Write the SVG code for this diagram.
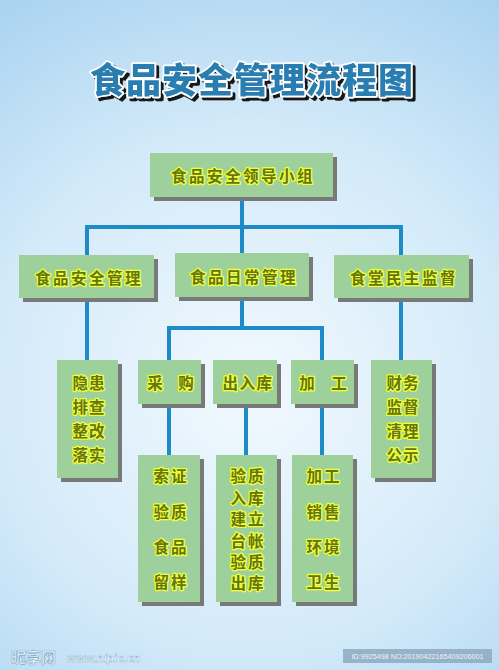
<svg xmlns="http://www.w3.org/2000/svg" width="499" height="670" viewBox="0 0 499 670">
  <defs>
    <radialGradient id="bg" cx="250" cy="390" r="470" gradientUnits="userSpaceOnUse">
      <stop offset="0" stop-color="#f2f9fe"/>
      <stop offset="0.55" stop-color="#d3eaf9"/>
      <stop offset="1" stop-color="#a7d2f0"/>
    </radialGradient>
    <filter id="tshadow" x="-10%" y="-30%" width="120%" height="160%">
      <feDropShadow dx="3" dy="3" stdDeviation="0.6" flood-color="#111111" flood-opacity="0.95"/>
    </filter>
  </defs>
  <style>
    .box { fill: #9dd09a; }
    .sh { fill: #777a77; }
    .lbl { font-family: "Noto Sans CJK SC", "Noto Sans", sans-serif; font-size: 15.5px; font-weight: 700; fill: #66750f; stroke: #eeff3a; stroke-width: 2.6px; stroke-linejoin: round; paint-order: stroke; text-anchor: middle; dominant-baseline: central; }
    .conn { stroke: #1c8bc8; stroke-width: 4; fill: none; stroke-linecap: square; }
    .title { font-family: "Noto Sans CJK SC", sans-serif; font-size: 35px; font-weight: 900; text-anchor: middle; letter-spacing: 1px; }
    .wm { font-family: "Liberation Sans", "Noto Sans CJK SC", sans-serif; }
  </style>
  <rect x="0" y="0" width="499" height="670" fill="url(#bg)"/>

  <g id="title">
    <text class="title" x="252" y="93" fill="#2b7db0" stroke="#ffffff" stroke-width="3.5" stroke-linejoin="round" paint-order="stroke" filter="url(#tshadow)">食品安全管理流程图</text>
  </g>

  <g id="connectors">
    <path class="conn" d="M242 199 V227 M87 227 H401 M87 227 V255 M242 227 V253 M401 227 V255"/>
    <path class="conn" d="M242 299 V328 M169 328 H322 M169 328 V360 M322 328 V360"/>
    <path class="conn" d="M87 300 V360 M401 300 V360"/>
    <path class="conn" d="M169 406 V455 M246 406 V455 M322 406 V455"/>
  </g>

  <g id="n-leader">
    <rect class="sh" x="154" y="157" width="183" height="44"/>
    <rect class="box" x="150" y="153" width="183" height="44"/>
    <text class="lbl" x="243" y="175" letter-spacing="2.5">食品安全领导小组</text>
  </g>

  <g id="n-safety">
    <rect class="sh" x="23" y="259" width="135" height="43"/>
    <rect class="box" x="19" y="255" width="135" height="43"/>
    <text class="lbl" x="89" y="277" letter-spacing="2.5">食品安全管理</text>
  </g>
  <g id="n-daily">
    <rect class="sh" x="179" y="257" width="134" height="44"/>
    <rect class="box" x="175" y="253" width="134" height="44"/>
    <text class="lbl" x="244" y="276" letter-spacing="2.5">食品日常管理</text>
  </g>
  <g id="n-canteen">
    <rect class="sh" x="338" y="259" width="135" height="43"/>
    <rect class="box" x="334" y="255" width="135" height="43"/>
    <text class="lbl" x="404" y="277" letter-spacing="2.5">食堂民主监督</text>
  </g>

  <g id="n-hazard">
    <rect class="sh" x="61" y="364" width="61" height="118"/>
    <rect class="box" x="57" y="360" width="61" height="118"/>
    <text class="lbl" x="89" y="382" letter-spacing="1">隐患</text>
    <text class="lbl" x="89" y="406" letter-spacing="1">排查</text>
    <text class="lbl" x="89" y="430" letter-spacing="1">整改</text>
    <text class="lbl" x="89" y="454" letter-spacing="1">落实</text>
  </g>
  <g id="n-purchase">
    <rect class="sh" x="142" y="364" width="63" height="44"/>
    <rect class="box" x="138" y="360" width="63" height="44"/>
    <text class="lbl" x="155" y="382">采</text>
    <text class="lbl" x="186" y="382">购</text>
  </g>
  <g id="n-storage">
    <rect class="sh" x="217" y="364" width="64" height="44"/>
    <rect class="box" x="213" y="360" width="64" height="44"/>
    <text class="lbl" x="248" y="382" letter-spacing="1.5">出入库</text>
  </g>
  <g id="n-process">
    <rect class="sh" x="295" y="364" width="63" height="44"/>
    <rect class="box" x="291" y="360" width="63" height="44"/>
    <text class="lbl" x="307" y="382">加</text>
    <text class="lbl" x="339" y="382">工</text>
  </g>
  <g id="n-finance">
    <rect class="sh" x="375" y="364" width="61" height="118"/>
    <rect class="box" x="371" y="360" width="61" height="118"/>
    <text class="lbl" x="403" y="382" letter-spacing="1">财务</text>
    <text class="lbl" x="403" y="406" letter-spacing="1">监督</text>
    <text class="lbl" x="403" y="430" letter-spacing="1">清理</text>
    <text class="lbl" x="403" y="454" letter-spacing="1">公示</text>
  </g>

  <g id="n-purchase-detail">
    <rect class="sh" x="142" y="459" width="62" height="147"/>
    <rect class="box" x="138" y="455" width="62" height="147"/>
    <text class="lbl" x="171" y="475" letter-spacing="2">索证</text>
    <text class="lbl" x="171" y="511" letter-spacing="2">验质</text>
    <text class="lbl" x="171" y="546" letter-spacing="2">食品</text>
    <text class="lbl" x="171" y="581" letter-spacing="2">留样</text>
  </g>
  <g id="n-storage-detail">
    <rect class="sh" x="220" y="459" width="61" height="147"/>
    <rect class="box" x="216" y="455" width="61" height="147"/>
    <text class="lbl" x="248" y="475" letter-spacing="2">验质</text>
    <text class="lbl" x="248" y="497" letter-spacing="2">入库</text>
    <text class="lbl" x="248" y="518" letter-spacing="2">建立</text>
    <text class="lbl" x="248" y="540" letter-spacing="2">台帐</text>
    <text class="lbl" x="248" y="561" letter-spacing="2">验质</text>
    <text class="lbl" x="248" y="582" letter-spacing="2">出库</text>
  </g>
  <g id="n-process-detail">
    <rect class="sh" x="296" y="459" width="61" height="147"/>
    <rect class="box" x="292" y="455" width="61" height="147"/>
    <text class="lbl" x="324" y="475" letter-spacing="2">加工</text>
    <text class="lbl" x="324" y="511" letter-spacing="2">销售</text>
    <text class="lbl" x="324" y="546" letter-spacing="2">环境</text>
    <text class="lbl" x="324" y="581" letter-spacing="2">卫生</text>
  </g>

  <g id="watermark">
    <text class="wm" x="11" y="663" font-size="15" font-weight="700" fill="#ffffff" fill-opacity="0.85" stroke="#7fa9c8" stroke-width="0.6" font-family="Noto Sans CJK SC, sans-serif">昵享网</text>
    <text class="wm" x="67" y="662" font-size="11.5" font-style="italic" font-weight="700" fill="#ffffff" fill-opacity="0.85" stroke="#7fa9c8" stroke-width="0.4">www.nipic.cn</text>
    <rect x="343" y="649" width="149" height="14" fill="#8ea9bf" fill-opacity="0.85"/>
    <text class="wm" x="417.5" y="659" font-size="7.2" fill="#eef4f8" text-anchor="middle">ID:9925498 NO:20190422165409206001</text>
  </g>
</svg>
